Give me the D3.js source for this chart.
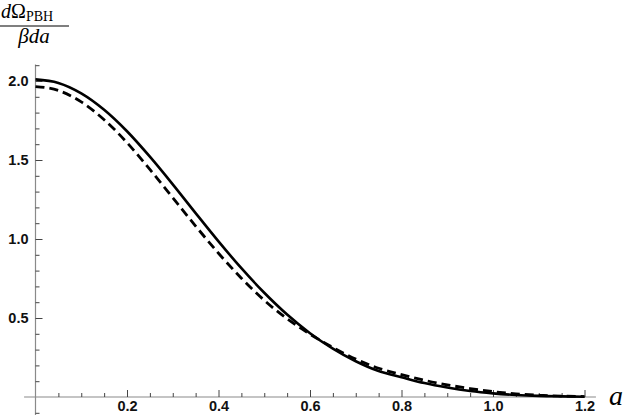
<!DOCTYPE html>
<html>
<head>
<meta charset="utf-8">
<script src="https://cdn.jsdelivr.net/npm/d3@7"></script>
<style>
  body { margin: 0; background: #fff; }
  svg { display: block; }
</style>
</head>
<body>
<div id="chart"></div>
<script>
// values
const aValues = [0, 0.05, 0.10, 0.15, 0.20, 0.25, 0.30, 0.35, 0.40, 0.45, 0.50, 0.55,
                 0.60, 0.65, 0.70, 0.75, 0.80, 0.85, 0.90, 0.95, 1.00, 1.05, 1.10, 1.15, 1.20];
const solidValues = [2.010, 1.988, 1.922, 1.818, 1.682, 1.521, 1.346, 1.164, 0.985, 0.815, 0.660, 0.522,
                     0.404, 0.306, 0.226, 0.164, 0.125, 0.088, 0.060, 0.038, 0.023, 0.013, 0.007, 0.004, 0.002];
const dashedValues = [1.965, 1.940, 1.868, 1.755, 1.610, 1.440, 1.262, 1.082, 0.910, 0.752, 0.612, 0.495,
                      0.398, 0.314, 0.240, 0.182, 0.142, 0.106, 0.077, 0.053, 0.034, 0.020, 0.011, 0.006, 0.003];
const xMajorTicks = [0.2, 0.4, 0.6, 0.8, 1.0, 1.2];
const yMajorTicks = [0.5, 1.0, 1.5, 2.0];

const width = 628, height = 415;

const svg = d3.select("#chart").append("svg")
    .attr("width", width)
    .attr("height", height);

const x = d3.scaleLinear().domain([0, 1.2]).range([35.5, 584.5]);
const y = d3.scaleLinear().domain([0, 2]).range([397, 81]);

const axisGray = "#8a8a8a";

// axis lines (Mathematica style, crossing at origin)
svg.append("line")
    .attr("x1", x(-0.025)).attr("x2", x(1.225))
    .attr("y1", y(0)).attr("y2", y(0))
    .attr("stroke", axisGray).attr("stroke-width", 1.2);
svg.append("line")
    .attr("x1", x(0)).attr("x2", x(0))
    .attr("y1", y(-0.115)).attr("y2", y(2.105))
    .attr("stroke", axisGray).attr("stroke-width", 1.2);

// minor ticks
const xMinor = d3.range(0.05, 1.201, 0.05).filter(v => Math.abs(v * 5 - Math.round(v * 5)) > 1e-6);
const yMinor = d3.range(-0.1, 2.101, 0.1).filter(v => Math.abs(v * 2 - Math.round(v * 2)) > 1e-6);

svg.append("g")
    .attr("transform", `translate(0,${y(0)})`)
    .call(d3.axisBottom(x).tickValues(xMinor).tickSizeInner(-4).tickSizeOuter(0).tickFormat(""))
    .call(g => g.select(".domain").remove())
    .selectAll("line").attr("stroke", "#444");

svg.append("g")
    .attr("transform", `translate(${x(0)},0)`)
    .call(d3.axisLeft(y).tickValues(yMinor).tickSizeInner(-4).tickSizeOuter(0).tickFormat(""))
    .call(g => g.select(".domain").remove())
    .selectAll("line").attr("stroke", "#444");

// major ticks with labels
const labelFont = "'Liberation Sans', Arial, sans-serif";

const xAxis = svg.append("g")
    .attr("transform", `translate(0,${y(0)})`)
    .call(d3.axisBottom(x).tickValues(xMajorTicks).tickSizeInner(-7).tickSizeOuter(0)
        .tickPadding(4).tickFormat(d3.format(".1f")));
xAxis.select(".domain").remove();
xAxis.selectAll("line").attr("stroke", "#444");
xAxis.selectAll("text")
    .style("font-family", labelFont)
    .style("font-weight", "bold")
    .style("font-size", "14.5px")
    .attr("fill", "#111");

const yAxis = svg.append("g")
    .attr("transform", `translate(${x(0)},0)`)
    .call(d3.axisLeft(y).tickValues(yMajorTicks).tickSizeInner(-7).tickSizeOuter(0)
        .tickPadding(7).tickFormat(d3.format(".1f")));
yAxis.select(".domain").remove();
yAxis.selectAll("line").attr("stroke", "#444");
yAxis.selectAll("text")
    .style("font-family", labelFont)
    .style("font-weight", "bold")
    .style("font-size", "14.5px")
    .attr("fill", "#111");

// curves
const line = d3.line()
    .x((d, i) => x(aValues[i]))
    .y(d => y(d))
    .curve(d3.curveMonotoneX);

svg.append("path")
    .datum(dashedValues)
    .attr("d", line)
    .attr("fill", "none")
    .attr("stroke", "#000")
    .attr("stroke-width", 2.8)
    .attr("stroke-dasharray", "9,5");

svg.append("path")
    .datum(solidValues)
    .attr("d", line)
    .attr("fill", "none")
    .attr("stroke", "#000")
    .attr("stroke-width", 2.6);

// y label: fraction dΩ_PBH / βda
const serif = "'Liberation Serif', 'Times New Roman', serif";
const num = svg.append("text")
    .attr("x", 1).attr("y", 18)
    .style("font-family", serif)
    .style("font-size", "20px");
num.append("tspan").attr("font-style", "italic").text("d");
num.append("tspan").text("Ω");
num.append("tspan").attr("dy", 3).style("font-size", "14px").text("PBH");

svg.append("line")
    .attr("x1", 0).attr("x2", 69)
    .attr("y1", 26).attr("y2", 26)
    .attr("stroke", "#000").attr("stroke-width", 1.2);

svg.append("text")
    .attr("x", 34).attr("y", 43)
    .attr("text-anchor", "middle")
    .style("font-family", serif)
    .style("font-size", "21px")
    .style("font-style", "italic")
    .text("βda");

// x label
svg.append("text")
    .attr("x", 609).attr("y", 405)
    .style("font-family", serif)
    .style("font-size", "28px")
    .style("font-style", "italic")
    .text("a");
</script>
</body>
</html>
